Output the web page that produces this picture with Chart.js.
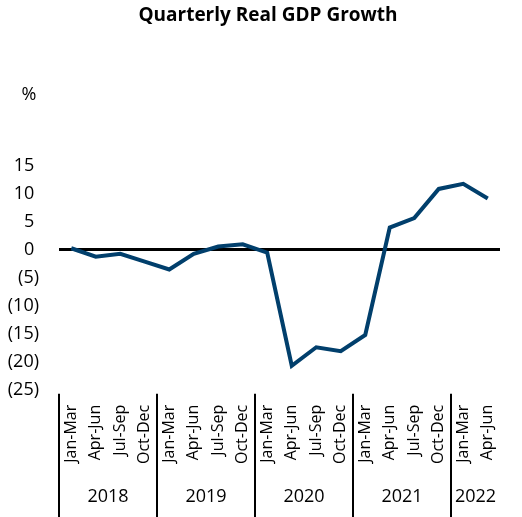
<!DOCTYPE html>
<html>
<head>
<meta charset="utf-8">
<script src="https://cdn.jsdelivr.net/npm/chart.js@4"></script>
<style>
  html, body { margin: 0; padding: 0; background: #fff; }
  #chart { display: block; }
</style>
</head>
<body>
<canvas id="chart" width="522" height="517"></canvas>
<script>
// quarter labels + which year each block of four belongs to
const quarters = ['Jan-Mar', 'Apr-Jun', 'Jul-Sep', 'Oct-Dec',
                  'Jan-Mar', 'Apr-Jun', 'Jul-Sep', 'Oct-Dec',
                  'Jan-Mar', 'Apr-Jun', 'Jul-Sep', 'Oct-Dec',
                  'Jan-Mar', 'Apr-Jun', 'Jul-Sep', 'Oct-Dec',
                  'Jan-Mar', 'Apr-Jun'];
const years = ['2018', '2019', '2020', '2021', '2022'];
const gdpGrowth = [0.3, -1.2, -0.7, -2.1, -3.5, -0.7, 0.6, 1.0,
                   -0.5, -20.7, -17.4, -18.1, -15.2, 4.0, 5.7, 10.9,
                   11.8, 9.2];

const FONT = '"Open Sans", sans-serif';
const lineColor = '#013f6c';
const titleText = 'Quarterly Real GDP Growth';

/**
 * Draws the title, the year group labels, the separators between years and the % unit.
 */
const yearGroupsPlugin = {
    id: 'yearGroups',
    afterDraw(chart) {
        const ctx = chart.ctx;
        const x = chart.scales.x;
        const y = chart.scales.y;
        const area = chart.chartArea;
        const step = x.getPixelForValue(1) - x.getPixelForValue(0);

        ctx.save();
        ctx.fillStyle = '#000';
        ctx.textAlign = 'center';
        ctx.textBaseline = 'middle';

        // title sits a little right of the canvas centre, like the original
        ctx.font = 'bold 19px ' + FONT;
        ctx.fillText(titleText, 268, 16);

        ctx.strokeStyle = '#000';
        ctx.lineWidth = 2;
        ctx.font = '18px ' + FONT;
        years.forEach((yr, i) => {
            const first = i * 4;
            const last = Math.min(first + 3, quarters.length - 1);
            const left = x.getPixelForValue(first) - step / 2;
            ctx.beginPath();
            ctx.moveTo(Math.round(left), area.bottom + 4);
            ctx.lineTo(Math.round(left), chart.height);
            ctx.stroke();
            const mid = (x.getPixelForValue(first) + x.getPixelForValue(last)) / 2;
            ctx.fillText(yr, mid, chart.height - 20);
        });

        // unit label above the value axis
        ctx.fillText('%', 29, y.top - 71);
        ctx.restore();
    }
};

const ctx = document.getElementById('chart').getContext('2d');

new Chart(ctx, {
    type: 'line',
    data: {
        labels: quarters,
        datasets: [{
            data: gdpGrowth,
            borderColor: lineColor,
            borderWidth: 4,
            pointRadius: 0,
            tension: 0,
            fill: false
        }]
    },
    options: {
        responsive: false,
        animation: false,
        layout: {
            padding: { left: 4, right: 22, top: 166, bottom: 46 }
        },
        plugins: {
            legend: { display: false },
            tooltip: { enabled: false },
            title: { display: false }
        },
        scales: {
            x: {
                offset: true,
                border: { display: false },
                grid: { display: false },
                ticks: {
                    color: '#000',
                    font: { family: FONT, size: 16 },
                    minRotation: 90,
                    maxRotation: 90,
                    autoSkip: false,
                    padding: 7
                }
            },
            y: {
                min: -25,
                max: 15,
                border: { display: false },
                afterFit(scale) {
                    scale.width = 55;
                },
                grid: {
                    drawTicks: false,
                    lineWidth: 3,
                    color: (c) => (c.tick && c.tick.value === 0 ? '#000' : 'rgba(0,0,0,0)')
                },
                ticks: {
                    stepSize: 5,
                    color: '#000',
                    padding: 20,
                    font: { family: FONT, size: 18 },
                    callback: (v) => (v < 0 ? '(' + (-v) + ')' : v + '\u2008')
                }
            }
        }
    },
    plugins: [yearGroupsPlugin]
});
</script>
</body>
</html>
